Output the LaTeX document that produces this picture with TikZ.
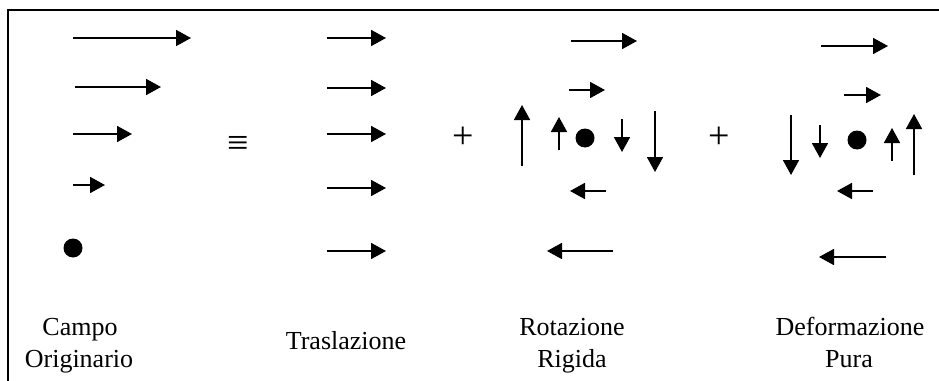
\documentclass[tikz,border=0pt]{standalone}
\usepackage{fontspec}
\setmainfont{Liberation Serif}
\usetikzlibrary{arrows.meta}
\begin{document}
\begin{tikzpicture}[x=1pt,y=-1pt,
  vec/.style={line width=1.8pt,-{Triangle[length=15pt,width=16pt]}},
  blob/.style={fill=black},
  lab/.style={anchor=base,inner sep=0pt,font=\fontsize{26}{31}\selectfont},
  sym/.style={inner sep=0pt,font=\fontsize{38}{40}\selectfont}]
\useasboundingbox (0,0) rectangle (939,380);
% frame (left and top edges)
\draw[line width=2pt] (8,382) -- (8,10) -- (941,10);
% Campo originario
\draw[vec] (73,38) -- (191,38);
\draw[vec] (75,87) -- (161,87);
\draw[vec] (73,134) -- (132,134);
\draw[vec] (73,185) -- (105,185);
\fill[blob] (73,248) circle (9.5);
\node[sym] (equiv) at (238,146) {≡};
% Traslazione
\foreach \yy in {38,88,134,188,251} \draw[vec] (327,\yy) -- (386,\yy);
\node[sym] (plusA) at (463,138) {+};
% Rotazione rigida
\draw[vec] (571,41) -- (637,41);
\draw[vec] (569,90) -- (605,90);
\draw[vec] (522,166) -- (522,105);
\draw[vec] (559,150) -- (559,117);
\fill[blob] (585,138) circle (9.5);
\draw[vec] (622,119) -- (622,152);
\draw[vec] (655,111) -- (655,172);
\draw[vec] (606,191) -- (570,191);
\draw[vec] (613,251) -- (547,251);
\node[sym] (plusB) at (719,138) {+};
% Deformazione pura
\draw[vec] (821,46) -- (888,46);
\draw[vec] (844,95) -- (881,95);
\draw[vec] (791,115) -- (791,175);
\draw[vec] (820,125) -- (820,158);
\fill[blob] (857,140) circle (9.5);
\draw[vec] (892,161) -- (892,128);
\draw[vec] (914,175) -- (914,114);
\draw[vec] (873,191) -- (837,191);
\draw[vec] (886,257) -- (819,257);
% labels
\node[lab] (campo) at (80,335) {Campo};
\node[lab] (orig) at (79,367) {Originario};
\node[lab] (trasl) at (346,349) {Traslazione};
\node[lab] (rot) at (572,335) {Rotazione};
\node[lab] (rig) at (572,367) {Rigida};
\node[lab] (def) at (850,335) {Deformazione};
\node[lab] (pura) at (849,367) {Pura};
\end{tikzpicture}
\end{document}
